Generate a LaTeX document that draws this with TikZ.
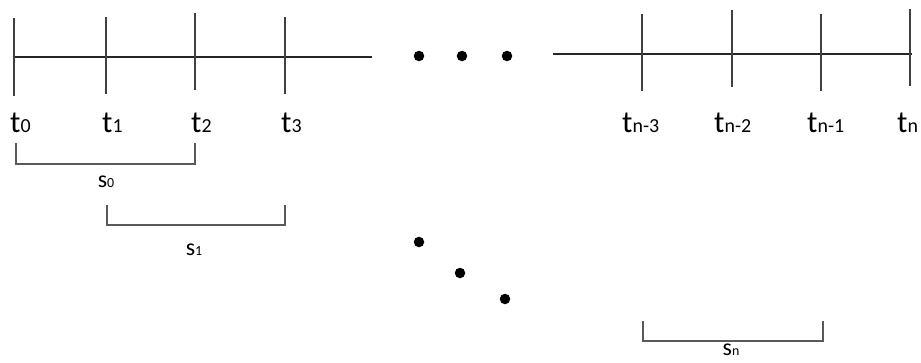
\documentclass[tikz,border=0pt]{standalone}
\usepackage{fontspec}
\setmainfont{Carlito}
\newcommand\tlab[1]{t{\fontsize{20}{20}\selectfont #1}}
\newcommand\slab[1]{s{\fontsize{14}{14}\selectfont #1}}
\begin{document}
\begin{tikzpicture}[x=1bp,y=-1bp,
  axis/.style={line width=1.6bp, draw=black!85},
  tickline/.style={line width=1.6bp, draw=black!75},
  bracket/.style={line width=1.4bp, draw=black!65},
  dot/.style={circle, fill=black, inner sep=0pt, minimum size=10.5bp},
  tlabel/.style={inner sep=0pt, anchor=base west, font=\fontsize{31}{31}\selectfont},
  slabel/.style={inner sep=0pt, anchor=base, font=\fontsize{24}{24}\selectfont}]
\useasboundingbox (0,0) rectangle (921,362);

% left time axis
\coordinate (L0) at (14,57);
\coordinate (L1) at (372,57);
\draw[axis] (L0) -- (L1);
\foreach \x/\t/\b [count=\i from 0] in {14/18/96, 106/17/94, 195/13/90, 285/17/94}
  \draw[tickline] (\x,\t) coordinate (lt\i) -- (\x,\b) coordinate (lb\i);

% right time axis
\coordinate (R0) at (553,54);
\coordinate (R1) at (912,54);
\draw[axis] (R0) -- (R1);
\foreach \x/\t/\b [count=\i from 0] in {642/14/91, 732/10/87, 821/14/91, 910/9/86}
  \draw[tickline] (\x,\t) coordinate (rt\i) -- (\x,\b) coordinate (rb\i);

% tick labels
\node[tlabel] (t0) at (10,132) {\tlab{0}};
\node[tlabel] (t1) at (102,132) {\tlab{1}};
\node[tlabel] (t2) at (191,132) {\tlab{2}};
\node[tlabel] (t3) at (281,132) {\tlab{3}};
\node[tlabel] (tn3) at (622,132) {\tlab{n-3}};
\node[tlabel] (tn2) at (714,132) {\tlab{n-2}};
\node[tlabel] (tn1) at (807,132) {\tlab{n-1}};
\node[tlabel] (tn) at (897,132) {\tlab{n}};

% horizontal ellipsis
\node[dot] (h1) at (419,56) {};
\node[dot] (h2) at (462,56) {};
\node[dot] (h3) at (507,56) {};

% diagonal ellipsis
\node[dot] (d1) at (419,242) {};
\node[dot] (d2) at (460,273) {};
\node[dot] (d3) at (505,299) {};

% window brackets
\draw[bracket] (16,143) -- (16,164) -- (195,164) -- (195,143);
\node[slabel] (s0) at (106,187) {\slab{0}};
\draw[bracket] (107,205) -- (107,225) -- (285,225) -- (285,205);
\node[slabel] (s1) at (194,255) {\slab{1}};
\draw[bracket] (643,321) -- (643,341) -- (823,341) -- (823,321);
\node[slabel] (sn) at (731,355) {\slab{n}};
\end{tikzpicture}
\end{document}
